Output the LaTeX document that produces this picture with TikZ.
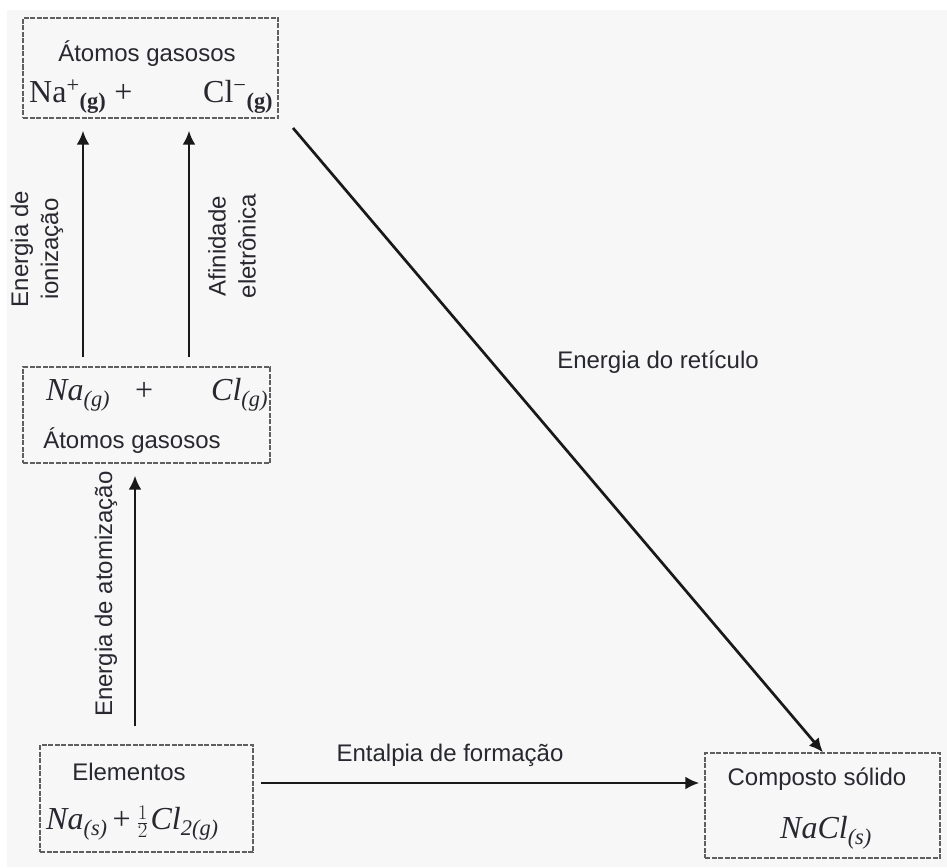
\documentclass[tikz,border=0pt]{standalone}
\usepackage{fontspec}
\setmainfont{Liberation Sans}
\newfontfamily\tms{Liberation Serif}
\usetikzlibrary{arrows.meta,calc}
\definecolor{bgc}{RGB}{247,247,247}
\definecolor{txt}{RGB}{40,40,48}
\definecolor{boxc}{RGB}{95,95,95}
\tikzset{
  boxn/.style={draw=boxc, line width=1.3pt, dash pattern=on 5pt off 1.5pt, inner sep=0pt},
  lbl/.style={text=txt, font=\fontsize{24}{30}\selectfont, inner sep=0pt},
  frm/.style={text=txt, font=\tms\fontsize{32}{36}\selectfont, inner sep=0pt, anchor=base west},
  frmi/.style={frm, font=\tms\itshape\fontsize{32}{36}\selectfont},
  arr/.style={line width=2.7pt, black!90, -{Latex[length=14pt,width=13pt]}}
}
\begin{document}
\begin{tikzpicture}[x=1pt,y=-1pt]
\useasboundingbox (0,0) rectangle (947,867);
\fill[white] (0,0) rectangle (947,867);
\fill[bgc] (7,10) rectangle (947,867);

% boxes
\node[boxn, minimum width=255pt, minimum height=100pt] (top) at (150.5,68) {};
\node[boxn, minimum width=247pt, minimum height=96pt] (mid) at (146.5,415) {};
\node[boxn, minimum width=213pt, minimum height=107pt] (bot) at (146.5,798.5) {};
\node[boxn, minimum width=235pt, minimum height=105pt] (res) at (822.5,805.5) {};

% texts in boxes
\node[lbl] (t1) at (147,54) {Átomos gasosos};
\node[frm] (t1a) at (29,102) {Na\textsuperscript{+}\textsubscript{\bfseries(g)} +};
\node[frm] (t1b) at (203,102) {Cl\textsuperscript{−}\textsubscript{\bfseries(g)}};

\node[frmi] (t2a) at (46,400) {Na\textsubscript{(g)}};
\node[frm] (t2p) at (135,400) {+};
\node[frmi] (t2b) at (211,400) {Cl\textsubscript{(g)}};
\node[lbl] (t2) at (132,441) {Átomos gasosos};

\node[lbl] (t3) at (129,772) {Elementos};
\node[frmi] (t3a) at (46,829) {Na\textsubscript{(s)}\kern5pt\upshape{+}\kern6pt$\frac{1}{2}$\kern2pt\itshape Cl\textsubscript{2(g)}};

\node[lbl] (t4) at (817,779) {Composto sólido};
\node[frmi] (t4a) at (780,838) {NaCl\textsubscript{(s)}};

% arrows
\draw[arr, shorten <=9pt, shorten >=12pt] (mid.north -| 83,0) -- (top.south -| 83,0);
\draw[arr, shorten <=9pt, shorten >=12pt] (mid.north -| 189,0) -- (top.south -| 189,0);
\draw[arr, shorten <=18pt, shorten >=12pt] (bot.north -| 135,0) -- (mid.south -| 135,0);
\draw[arr, shorten <=7pt, shorten >=5pt] (bot.east |- 0,783) -- (res.west |- 0,783);
\coordinate (rs) at (293,128);
\draw[arr] (rs) -- (res.north -| 823,0);

% arrow labels
\node[lbl, rotate=90, align=center] (l1) at (37,249) {Energia de\\ionização};
\node[lbl, rotate=90, align=center] (l2) at (232,246) {Afinidade\\eletrônica};
\node[lbl, rotate=90] (l3) at (106,594) {Energia de atomização};
\node[lbl] (l4) at (658,362) {Energia do retículo};
\node[lbl] (l5) at (450,755) {Entalpia de formação};
\end{tikzpicture}
\end{document}
